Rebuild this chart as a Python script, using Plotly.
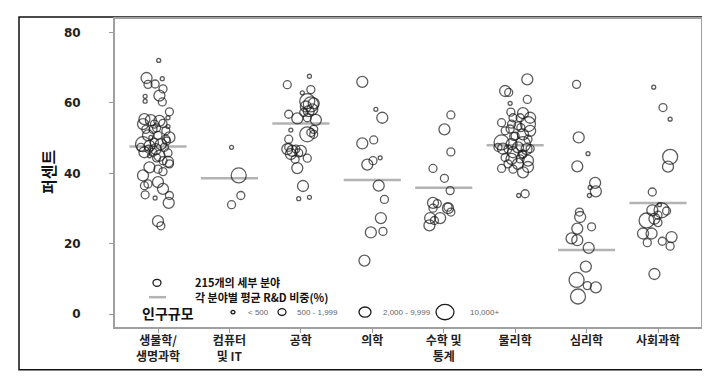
import plotly.graph_objects as go

# ---------------- data ----------------
categories = ["생물학/<br>생명과학", "컴퓨터<br>및 IT", "공학", "의학",
              "수학 및<br>통계", "물리학", "심리학", "사회과학"]
mean_rd = [47.6, 38.6, 54.2, 38.1, 35.9, 48.0, 18.2, 31.6]
y_ticks = [0, 20, 40, 60, 80]

# size class: 0 <500, 1 500-1,999, 2 2,000-9,999, 3 10,000+
bio_y = [72.1, 67.1, 66.9, 65.3, 65.4, 64.0, 62.1, 61.9, 60.5, 60.3, 57.5, 55.8, 55.4, 55.1,
         54.9, 54.0, 54.0, 54.2, 52.5, 52.5, 52.1, 50.8, 50.8, 50.2, 48.3, 47.8, 48.8, 48.3,
         47.4, 46.0, 46.0, 45.0, 45.8, 45.0, 43.3, 42.7, 41.7, 41.2, 40.5, 39.4, 37.0, 37.5,
         36.5, 35.6, 33.7, 33.9, 33.0, 31.6, 26.4, 25.1, 46.9, 49.7, 47.4, 46.9, 43.6, 50.2,
         52.9, 49.2, 44.4, 53.3]
bio_jit = [0.01, -0.16, 0.06, -0.14, -0.04, 0.07, 0.02, -0.18, -0.18, 0.06, 0.16, 0.14, -0.19, -0.10,
           0.02, -0.21, -0.05, 0.07, -0.17, -0.07, 0.11, -0.14, 0.00, 0.16, -0.21, -0.12, -0.05, 0.04,
           0.09, -0.19, -0.07, 0.02, 0.14, -0.12, 0.14, 0.16, -0.12, 0.00, 0.07, -0.21, -0.14, 0.00,
           -0.19, 0.07, 0.16, -0.18, -0.04, 0.15, 0.00, 0.04, -0.13, 0.11, -0.24, -0.03, 0.07, -0.10,
           -0.02, 0.12, -0.02, 0.14]
bio_sz = [0, 2, 0, 1, 1, 1, 2, 0, 0, 1, 1, 0, 2, 2,
          2, 2, 1, 1, 1, 1, 1, 2, 1, 2, 3, 2, 1, 2,
          1, 2, 1, 2, 1, 0, 2, 1, 2, 1, 1, 2, 1, 2,
          1, 2, 1, 1, 0, 2, 2, 1, 1, 1, 1, 2, 1, 0,
          1, 1, 1, 0]

cs_y = [47.4, 39.4, 33.7, 31.1]
cs_jit = [0.03, 0.13, 0.16, 0.03]
cs_sz = [0, 3, 1, 1]

eng_y = [67.6, 65.2, 63.8, 62.9, 60.5, 59.6, 59.0, 59.9, 57.7, 57.3, 56.8, 55.6, 55.2, 55.8,
         52.3, 52.5, 51.1, 51.1, 51.6, 49.7, 47.4, 46.9, 46.4, 46.9, 46.4, 45.8, 45.5, 44.3,
         41.5, 36.4, 32.8, 33.2, 58.2, 44.0]
eng_jit = [0.12, -0.19, 0.14, 0.02, 0.09, 0.14, 0.07, 0.18, 0.11, 0.04, -0.17, -0.05, 0.21, 0.09,
           -0.14, 0.18, 0.09, 0.18, 0.14, -0.17, -0.17, -0.19, -0.12, -0.07, 0.00, -0.03, -0.14, 0.09,
           -0.05, 0.03, -0.03, 0.12, 0.16, -0.08]
eng_sz = [0, 1, 1, 0, 3, 3, 2, 2, 2, 1, 1, 2, 2, 1,
          0, 1, 3, 1, 1, 1, 1, 2, 2, 1, 2, 1, 2, 1,
          2, 2, 0, 0, 2, 1]

med_y = [66.0, 58.2, 55.8, 48.5, 49.5, 44.4, 43.6, 42.5, 36.5, 32.6, 27.3, 23.2, 23.5, 15.2]
med_jit = [-0.14, 0.05, 0.14, -0.14, 0.02, 0.11, 0.01, -0.07, 0.09, 0.17, 0.12, -0.02, 0.15, -0.11]
med_sz = [2, 0, 2, 2, 1, 0, 1, 2, 2, 1, 2, 2, 1, 2]

math_y = [56.6, 52.5, 46.1, 41.4, 38.6, 35.1, 31.6, 31.4, 30.1, 30.1, 30.4, 27.3, 27.3, 26.6, 25.2, 29.0]
math_jit = [0.10, 0.01, 0.10, -0.15, 0.01, 0.09, -0.15, -0.09, 0.06, -0.15, 0.06, -0.19, -0.05, -0.13, -0.20, 0.10]
math_sz = [1, 2, 1, 1, 1, 1, 2, 1, 2, 1, 1, 2, 2, 1, 2, 1]

phys_y = [66.7, 63.4, 63.0, 61.0, 59.9, 57.4, 57.1, 55.8, 55.8, 55.8, 54.4, 54.0, 54.0, 53.5,
          52.1, 52.6, 52.1, 51.1, 50.6, 49.7, 48.8, 48.3, 48.3, 47.4, 47.0, 46.9, 46.9, 47.4,
          46.0, 45.5, 44.5, 44.1, 44.1, 43.6, 42.7, 42.7, 41.4, 41.8, 41.2, 40.3, 34.2, 33.7,
          50.5, 45.4, 53.0, 47.0]
phys_jit = [0.17, -0.14, -0.09, 0.17, -0.07, -0.06, 0.11, -0.03, 0.07, 0.21, -0.19, 0.18, -0.05, 0.04,
            -0.14, -0.07, 0.21, 0.11, 0.00, 0.18, -0.19, -0.05, 0.11, 0.04, -0.17, -0.10, 0.16, -0.24,
            -0.03, 0.11, -0.14, -0.05, 0.07, 0.18, -0.10, 0.04, -0.19, 0.18, -0.03, 0.11, 0.14, 0.05,
            -0.02, 0.10, 0.08, 0.21]
phys_sz = [2, 2, 1, 1, 0, 1, 2, 1, 1, 2, 1, 3, 1, 1,
           1, 1, 2, 2, 1, 1, 3, 2, 3, 2, 2, 1, 2, 1,
           2, 1, 1, 2, 1, 2, 1, 2, 1, 2, 1, 2, 1, 0,
           1, 1, 1, 1]

psy_y = [65.3, 50.2, 45.6, 42.0, 37.3, 34.9, 33.7, 29.0, 27.6, 24.3, 24.8, 21.5, 21.0, 18.8,
         13.5, 9.7, 8.1, 7.6, 5.0, 36.0]
psy_jit = [-0.14, -0.11, 0.02, -0.13, 0.12, 0.13, 0.04, -0.10, -0.09, -0.13, 0.07, -0.21, -0.13, 0.03,
           -0.01, -0.14, 0.01, 0.13, -0.12, 0.05]
psy_sz = [1, 2, 0, 2, 2, 2, 0, 1, 2, 2, 1, 2, 2, 2,
          2, 3, 1, 2, 3, 0]

soc_y = [64.5, 58.7, 55.4, 44.7, 41.9, 34.7, 31.1, 29.5, 29.5, 29.3, 26.6, 27.1, 26.0, 22.9,
         22.9, 21.9, 20.3, 20.7, 19.3, 11.4, 28.1]
soc_jit = [-0.06, 0.07, 0.17, 0.17, 0.14, -0.08, 0.02, -0.08, 0.05, 0.12, -0.16, -0.05, 0.00, -0.21,
           -0.09, 0.19, -0.15, 0.06, 0.17, -0.05, 0.00]
soc_sz = [0, 1, 0, 3, 2, 1, 0, 2, 3, 1, 3, 2, 1, 2,
          2, 2, 1, 1, 1, 2, 1]

size_labels = ["< 500", "500 - 1,999", "2,000 - 9,999", "10,000+"]

# ---------------- styling ----------------
SIZE_PX = [4, 8, 11, 15]
KR = "Noto Sans CJK KR"

groups = [(bio_y, bio_jit, bio_sz), (cs_y, cs_jit, cs_sz), (eng_y, eng_jit, eng_sz),
          (med_y, med_jit, med_sz), (math_y, math_jit, math_sz), (phys_y, phys_jit, phys_sz),
          (psy_y, psy_jit, psy_sz), (soc_y, soc_jit, soc_sz)]

xs, ys, ss = [], [], []
for i, (gy, gj, gs) in enumerate(groups):
    for v, j, s in zip(gy, gj, gs):
        xs.append(i + j)
        ys.append(v)
        ss.append(SIZE_PX[s])

fig = go.Figure()

mx, my = [], []
for i, m in enumerate(mean_rd):
    mx += [i - 0.4, i + 0.4, None]
    my += [m, m, None]
fig.add_trace(go.Scatter(x=mx, y=my, mode="lines",
                         line=dict(color="#b3b3b3", width=2.5), hoverinfo="skip"))

fig.add_trace(go.Scatter(x=xs, y=ys, mode="markers",
                         marker=dict(symbol="circle", size=ss, color="rgba(0,0,0,0)",
                                     line=dict(color="#1a1a1a", width=1.3))))

# ---------------- layout ----------------
L, R, T, B = 107, 17, 9, 58
W, H = 710, 377
pw, ph = W - L - R, H - T - B


def px(xp):
    return (xp - L) / pw


def py(yp):
    return (H - B - yp) / ph


shapes = []
annotations = []

# outer border
shapes.append(dict(type="rect", xref="paper", yref="paper",
                   x0=px(11), x1=px(704), y0=py(362), y1=py(7),
                   line=dict(color="#111", width=1.5), fillcolor="rgba(0,0,0,0)", layer="below"))

# legend: marker sample
shapes.append(dict(type="circle", xref="paper", yref="paper", xsizemode="pixel", ysizemode="pixel",
                   xanchor=px(149), yanchor=py(274.5), x0=-4, x1=4, y0=-3.5, y1=3.5,
                   line=dict(color="#1a1a1a", width=1.3)))
annotations.append(dict(xref="paper", yref="paper", x=px(185), y=py(273.5), xanchor="left",
                        yanchor="middle", showarrow=False, text="<b>215개의 세부 분야</b>",
                        font=dict(family=KR, size=11, color="#111")))
# legend: mean line sample
shapes.append(dict(type="line", xref="paper", yref="paper", x0=px(141), x1=px(158),
                   y0=py(289), y1=py(289), line=dict(color="#b3b3b3", width=2.5)))
annotations.append(dict(xref="paper", yref="paper", x=px(185), y=py(289), xanchor="left",
                        yanchor="middle", showarrow=False, text="<b>각 분야별 평균 R&D 비중(%)</b>",
                        font=dict(family=KR, size=11, color="#111")))
# legend: population size
annotations.append(dict(xref="paper", yref="paper", x=px(132), y=py(304.5), xanchor="left",
                        yanchor="middle", showarrow=False, text="<b>인구규모</b>",
                        font=dict(family=KR, size=14, color="#111")))
leg_cx = [225, 274, 357, 437]
leg_tx = [238, 287, 373, 460]
leg_d = [4, 8, 12, 18]
for cx, tx, d, lab in zip(leg_cx, leg_tx, leg_d, size_labels):
    shapes.append(dict(type="circle", xref="paper", yref="paper", xsizemode="pixel", ysizemode="pixel",
                       xanchor=px(cx), yanchor=py(304), x0=-d / 2, x1=d / 2, y0=-d / 2 * 0.85, y1=d / 2 * 0.85,
                       line=dict(color="#1a1a1a", width=1.3)))
    annotations.append(dict(xref="paper", yref="paper", x=px(tx), y=py(304), xanchor="left",
                            yanchor="middle", showarrow=False, text=lab,
                            font=dict(family="Liberation Sans", size=8, color="#666")))

# y title
annotations.append(dict(xref="paper", yref="paper", x=px(40), y=py(163), xanchor="center",
                        yanchor="middle", showarrow=False, text="<b>퍼센트</b>", textangle=-90,
                        font=dict(family=KR, size=16, color="#111")))

fig.update_layout(
    width=W, height=H,
    margin=dict(l=L, r=R, t=T, b=B, pad=0),
    paper_bgcolor="white", plot_bgcolor="white",
    showlegend=False,
    shapes=shapes, annotations=annotations,
    xaxis=dict(range=[-0.602, 7.602], tickmode="array", tickvals=list(range(len(categories))),
               ticktext=[f"<b>{c}</b>" for c in categories],
               showgrid=False, zeroline=False, showline=True, mirror=True,
               linecolor="#a0a0a0", linewidth=2, ticks="outside", ticklen=4, tickcolor="#999",
               ticklabelstandoff=-2,
               tickfont=dict(family=KR, size=12, color="#222"), fixedrange=True),
    yaxis=dict(range=[-3.67, 83.87], tickmode="array", tickvals=y_ticks,
               showgrid=False, zeroline=False, showline=True, mirror=True,
               linecolor="#a0a0a0", linewidth=2, ticks="outside", ticklen=4, tickcolor="#999",
               ticklabelstandoff=26,
               tickfont=dict(family="DejaVu Sans", size=12, color="#222", weight="bold"),
               fixedrange=True),
)

fig.write_html("out.html")
